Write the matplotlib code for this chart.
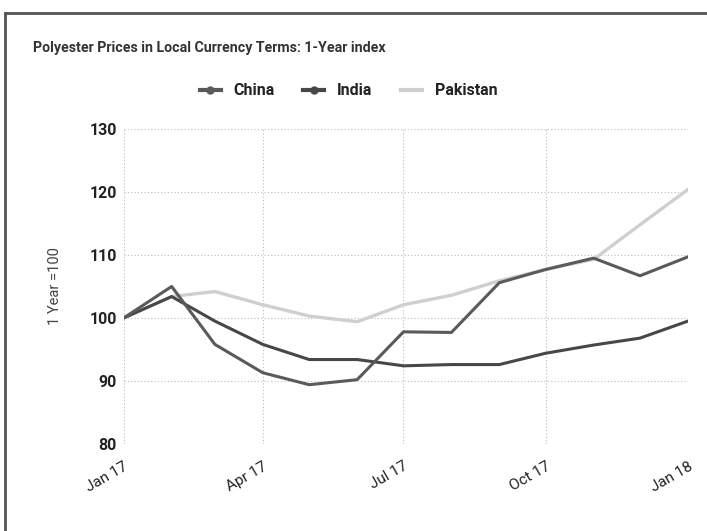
import matplotlib.pyplot as plt
import matplotlib.transforms as mtransforms
import numpy as np
import pandas as pd
from matplotlib.lines import Line2D

plt.rcParams['font.family'] = ['Roboto', 'DejaVu Sans']

months = pd.date_range('2017-01-01', '2018-01-01', freq='MS')
china = [100, 105.0, 95.8, 91.3, 89.4, 90.2, 97.8, 97.7, 105.6, 107.7, 109.5, 106.7, 109.7]
india = [100, 103.4, 99.5, 95.8, 93.4, 93.4, 92.4, 92.6, 92.6, 94.4, 95.7, 96.8, 99.5]
pakistan = [100, 103.4, 104.2, 102.1, 100.3, 99.4, 102.1, 103.6, 105.9, 107.7, 109.3, 114.8, 120.4]
tick_dates = pd.to_datetime(['2017-01-01', '2017-04-01', '2017-07-01', '2017-10-01', '2018-01-01'])
tick_labels = ['Jan 17', 'Apr 17', 'Jul 17', 'Oct 17', 'Jan 18']

fig = plt.figure(figsize=(7.07, 5.31), dpi=100)
ax = fig.add_axes([0.175, 0.164, 0.798, 0.593])

ax.plot(months, pakistan, color='#cfcfcf', lw=2.4, label='Pakistan', zorder=2)
ax.plot(months, india, color='#474747', lw=2.2, label='India', zorder=3)
ax.plot(months, china, color='#5a5a5a', lw=2.2, label='China', zorder=4)

ax.set_ylim(80, 130)
ax.set_yticks(np.arange(80, 131, 10))
ax.set_xlim(months[0], months[-1])
ax.set_xticks(tick_dates)
ax.set_xticklabels(tick_labels, rotation=30, ha='right', rotation_mode='anchor',
                   fontsize=11, color='#222222')
shift = mtransforms.ScaledTranslation(8 / 100, 0, fig.dpi_scale_trans)
for lab in ax.get_xticklabels():
    lab.set_transform(lab.get_transform() + shift)
ax.tick_params(axis='y', labelsize=11.5, colors='#222222', length=0, pad=5)
ax.tick_params(axis='x', length=0, pad=11)
for lab in ax.get_yticklabels():
    lab.set_fontweight('bold')

ax.grid(True, color='#bbbbbb', linestyle=(0, (1, 2)), lw=0.8)
for s in ax.spines.values():
    s.set_visible(False)

ax.set_ylabel('1 Year =100', fontsize=10.5, color='#444444', labelpad=20)

fig.text(0.047, 0.909, 'Polyester Prices in Local Currency Terms: 1-Year index',
         fontsize=10.2, fontweight='bold', color='#333333', va='center')

handles = [Line2D([], [], color='#5a5a5a', lw=3, marker='o', ms=5),
           Line2D([], [], color='#474747', lw=3, marker='o', ms=5),
           Line2D([], [], color='#cfcfcf', lw=3)]
fig.legend(handles, ['China', 'India', 'Pakistan'], loc='center', bbox_to_anchor=(0.493, 0.829),
           ncol=3, frameon=False, handlelength=1.3, columnspacing=1.8,
           handletextpad=0.8, labelcolor='#222222',
           prop={'size': 11.5, 'weight': 'bold'})

# scanned frame
fig.add_artist(Line2D([0.007, 0.007], [0.0, 0.976], color='#555555', lw=2))
fig.add_artist(Line2D([0.007, 1.0], [0.976, 0.976], color='#555555', lw=2))

fig.savefig('out.png', dpi=100)
